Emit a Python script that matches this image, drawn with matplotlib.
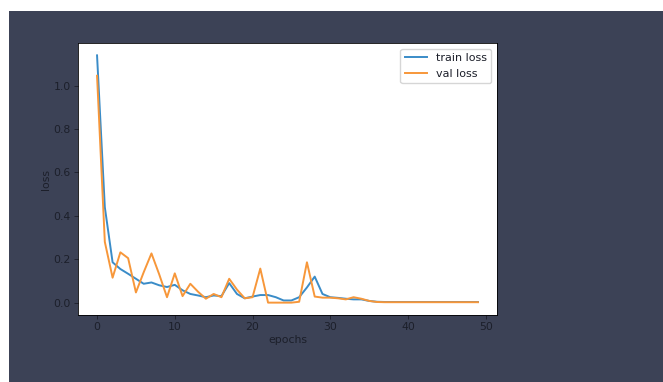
import matplotlib.pyplot as plt
from matplotlib.patches import Rectangle

# loss values, one per epoch (0..49)
epochs = list(range(50))
train_loss = [1.14, 0.44, 0.186, 0.155, 0.133, 0.11, 0.087, 0.093, 0.08, 0.072,
              0.082, 0.057, 0.04, 0.033, 0.025, 0.033, 0.03, 0.09, 0.04, 0.02,
              0.028, 0.035, 0.035, 0.025, 0.01, 0.01, 0.025, 0.07, 0.12, 0.04,
              0.025, 0.022, 0.018, 0.015, 0.015, 0.008, 0.004, 0.003, 0.003, 0.003,
              0.003, 0.003, 0.003, 0.003, 0.003, 0.003, 0.003, 0.003, 0.003, 0.003]
val_loss = [1.046, 0.28, 0.115, 0.232, 0.205, 0.047, 0.14, 0.227, 0.13, 0.025,
            0.135, 0.03, 0.087, 0.05, 0.018, 0.04, 0.025, 0.11, 0.06, 0.02,
            0.025, 0.157, 0.0, 0.0, 0.0, 0.0, 0.004, 0.186, 0.028, 0.023,
            0.023, 0.02, 0.015, 0.025, 0.018, 0.008, 0.003, 0.002, 0.002, 0.002,
            0.002, 0.002, 0.002, 0.002, 0.002, 0.002, 0.002, 0.002, 0.002, 0.002]

txt = '#1c1f2a'
plt.rcParams['font.size'] = 7.8
plt.rcParams['text.color'] = txt
plt.rcParams['axes.labelcolor'] = txt
plt.rcParams['xtick.color'] = txt
plt.rcParams['ytick.color'] = txt

fig = plt.figure(figsize=(6.63, 3.82), dpi=100, facecolor='white')
# dark panel behind the chart (screenshot background)
bg = Rectangle((9 / 663, 0), 1, 1 - 11 / 382, transform=fig.transFigure,
               facecolor='#3c4256', edgecolor='none', zorder=-10)
fig.add_artist(bg)

ax = fig.add_axes([78 / 663, 1 - 315 / 382, 419 / 663, 272 / 382])
ax.set_zorder(5)
ax.plot(epochs, train_loss, color='#3a8cc8', lw=1.4, label='train loss')
ax.plot(epochs, val_loss, color='#f7973a', lw=1.4, label='val loss')
ax.set_xlabel('epochs', labelpad=2)
ax.set_ylabel('loss', labelpad=2)
ax.tick_params(length=2.6, width=0.6, pad=2.5)
for s in ax.spines.values():
    s.set_linewidth(0.6)
ax.legend(loc='upper right', fontsize=8)

fig.savefig('out.png', dpi=100, facecolor=fig.get_facecolor())
